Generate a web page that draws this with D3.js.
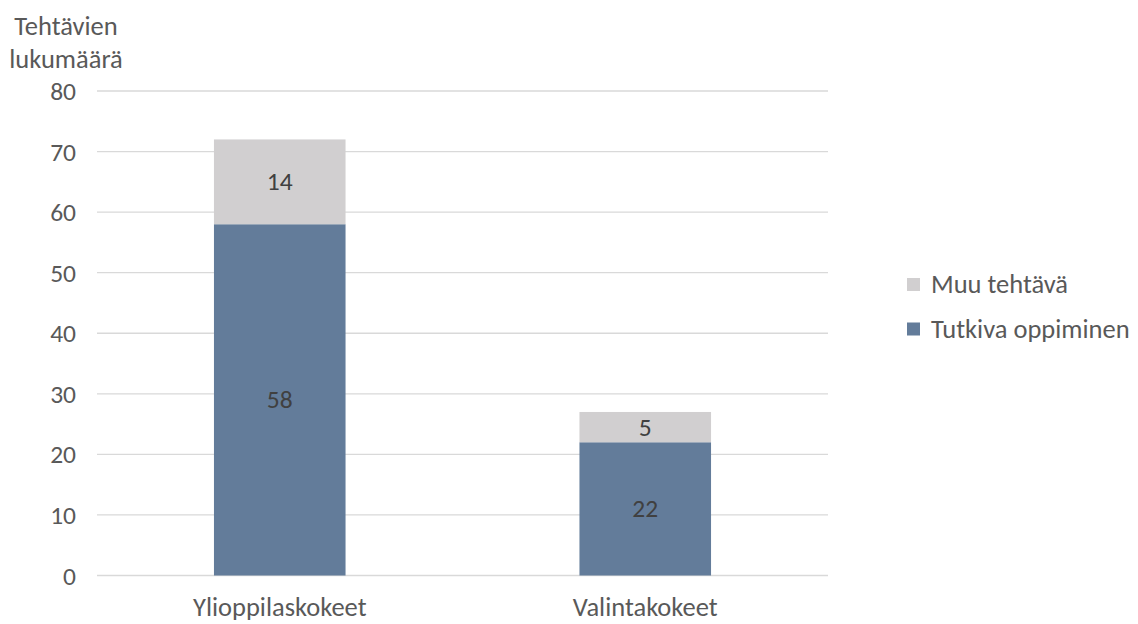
<!DOCTYPE html>
<html><head><meta charset="utf-8">
<script src="https://cdn.jsdelivr.net/npm/d3@7"></script>
<style>body{margin:0;background:#fff}text{font-family:Carlito,"Open Sans",sans-serif}</style>
</head><body><svg id="c" width="1138" height="624"></svg>
<script>
const categories = ["Ylioppilaskokeet", "Valintakokeet"];
const seriesNames = ["Tutkiva oppiminen", "Muu tehtävä"];
const tutkiva = [58, 22];
const muu = [14, 5];
const yTicks = [0, 10, 20, 30, 40, 50, 60, 70, 80];
const colors = ["#637C9A", "#D1CFD0"];

const FS = 26.5;
const svg = d3.select("#c");
const m = {l: 97, r: 828, t: 91, b: 575.5};
const x = d3.scaleBand().domain(categories).range([m.l, m.r]).paddingInner(0.64).paddingOuter(0.32);
const y = d3.scaleLinear().domain([0, 80]).range([m.b, m.t]);

// gridlines
svg.append("g").selectAll("line").data(yTicks).join("line")
  .attr("x1", m.l).attr("x2", m.r).attr("y1", d => y(d)).attr("y2", d => y(d))
  .attr("stroke", "#D9D9D9").attr("stroke-width", 1.3);

// y tick labels
svg.append("g").selectAll("text").data(yTicks).join("text")
  .attr("x", 76).attr("y", d => y(d) + 9).attr("text-anchor", "end")
  .attr("font-size", 25.5).attr("fill", "#595959").text(d => d);

// stacked data
const rows = categories.map((c, i) => ({cat: c, "Tutkiva oppiminen": tutkiva[i], "Muu tehtävä": muu[i]}));
const stack = d3.stack().keys(seriesNames)(rows);
const g = svg.append("g");
stack.forEach((s, si) => {
  g.selectAll(null).data(s).join("rect")
    .attr("x", d => x(d.data.cat)).attr("width", x.bandwidth())
    .attr("y", d => y(d[1])).attr("height", d => y(d[0]) - y(d[1]))
    .attr("fill", colors[si]);
  g.selectAll(null).data(s).join("text")
    .attr("x", d => x(d.data.cat) + x.bandwidth() / 2)
    .attr("y", d => (y(d[0]) + y(d[1])) / 2 + 8.5)
    .attr("text-anchor", "middle").attr("font-size", 25.5).attr("fill", "#404040")
    .text(d => d[1] - d[0]);
});

// category labels
svg.append("g").selectAll("text").data(categories).join("text")
  .attr("x", d => x(d) + x.bandwidth() / 2).attr("y", 616)
  .attr("text-anchor", "middle").attr("font-size", FS).attr("fill", "#595959").text(d => d);

// axis title
svg.append("text").attr("x", 66).attr("y", 35).attr("text-anchor", "middle")
  .attr("font-size", FS).attr("fill", "#595959").text("Tehtävien");
svg.append("text").attr("x", 66).attr("y", 68).attr("text-anchor", "middle")
  .attr("font-size", FS).attr("fill", "#595959").text("lukumäärä");

// legend (reverse order)
const legendItems = [1, 0];
const lg = svg.append("g").selectAll("g").data(legendItems).join("g")
  .attr("transform", (d, i) => `translate(907,${278 + i * 44.5})`);
lg.append("rect").attr("width", 13).attr("height", 13).attr("fill", d => colors[d]);
lg.append("text").attr("x", 24).attr("y", 15).attr("font-size", FS).attr("fill", "#595959")
  .text(d => seriesNames[d]);
</script></body></html>
